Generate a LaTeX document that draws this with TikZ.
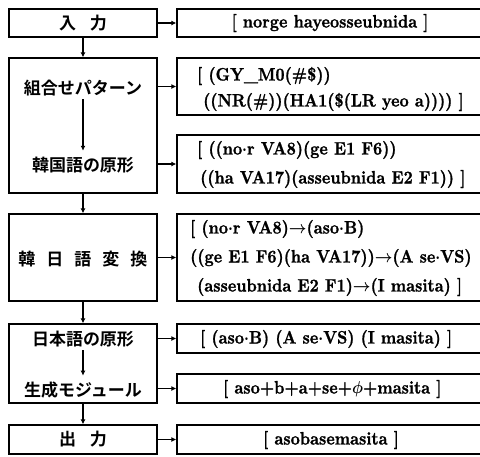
\documentclass[tikz,border=0pt]{standalone}
\usepackage{fontspec}
\usepackage{graphicx}
\newfontfamily\cjk{Noto Sans CJK JP}[BoldFont={Noto Sans CJK JP Bold}]
\newfontfamily\enfont{lmroman10-bold.otf}[FakeBold=1.2]
\usetikzlibrary{arrows.meta}
\newcommand{\entext}[1]{\scalebox{0.89}[1]{\enfont\boldmath\fontsize{18}{18}\selectfont #1}}
\tikzset{
  lbox/.style={draw, line width=1.3pt, minimum width=148pt, inner sep=0pt},
  rbox/.style={draw, line width=1.3pt, minimum width=307pt, inner sep=0pt},
  arr/.style={line width=1.3pt, -{Latex[length=5pt,width=5pt]}},
  jp/.style={font=\cjk\bfseries\fontsize{17}{17}\selectfont, inner sep=0pt},
  en/.style={inner sep=0pt},
  enl/.style={en, anchor=west},
}
\newcommand{\cd}{${\cdot}$}
\newcommand{\ra}{${\rightarrow}$}
\begin{document}
\begin{tikzpicture}[x=1pt,y=-1pt]
\useasboundingbox (0,0) rectangle (480,456);
\clip (0,0) rectangle (480,456);
% left boxes
\node[lbox, minimum height=28pt] (L1) at (83,23) {};
\node[lbox, minimum height=135pt] (L2) at (83,125.5) {};
\node[lbox, minimum height=87pt] (L3) at (83,257.5) {};
\node[lbox, minimum height=79pt] (L4) at (83,363.5) {};
\node[lbox, minimum height=29pt] (L5) at (83,439.5) {};
% left texts
\node[jp] (J1) at (L1.center) {入\hspace{14pt}力};
\node[jp] (J2a) at (83,88) {組合せパターン};
\node[jp] (J2b) at (83,165) {韓国語の原形};
\node[jp] (J3) at (83,259) {韓\hspace{11pt}日\hspace{11pt}語\hspace{11pt}変\hspace{11pt}換};
\node[jp] (J4a) at (83,339) {日本語の原形};
\node[jp] (J4b) at (83,390) {生成モジュール};
\node[jp] (J5) at (L5.center) {出\hspace{14pt}力};
% right boxes
\node[rbox, minimum height=28pt] (R1) at (330.5,23) {};
\node[rbox, minimum height=57pt] (R2) at (330.5,86.5) {};
\node[rbox, minimum height=58pt] (R3) at (330.5,164) {};
\node[rbox, minimum height=87pt] (R4) at (330.5,257.5) {};
\node[rbox, minimum height=29pt] (R5) at (330.5,338.5) {};
\node[rbox, minimum height=29pt] (R6) at (330.5,388.5) {};
\node[rbox, minimum height=29pt] (R7) at (330.5,439.5) {};
% right texts
\node[en] (T1) at (330,23) {\entext{[ norge hayeosseubnida ]}};
\node[enl] (T2a) at (197,76) {\entext{[ (GY\_M0(\#\$))}};
\node[enl] (T2b) at (203,102) {\entext{((NR(\#))(HA1(\$(LR yeo a)))) ]}};
\node[enl] (T3a) at (197,150) {\entext{[ ((no\cd r VA8)(ge E1 F6))}};
\node[enl] (T3b) at (200,179) {\entext{((ha VA17)(asseubnida E2 F1)) ]}};
\node[enl] (T4a) at (190,229) {\entext{[ (no\cd r VA8)\ra(aso\cd B)}};
\node[enl] (T4b) at (190,258) {\entext{((ge E1 F6)(ha VA17))\ra(A se\cd VS)}};
\node[enl] (T4c) at (197,287) {\entext{(asseubnida E2 F1)\ra(I masita) ]}};
\node[enl] (T5) at (200,339) {\entext{[ (aso\cd B) (A se\cd VS) (I masita) ]}};
\node[enl] (T6) at (223,389) {\entext{[ aso+b+a+se+$\phi$+masita ]}};
\node[enl] (T7) at (263,440) {\entext{[ asobasemasita ]}};
% vertical arrows
\draw[arr] (L1.south) -- (L2.north);
\draw[arr] (L2.south) -- (L3.north);
\draw[arr] (L3.south) -- (L4.north);
\draw[arr] (L4.south) -- (L5.north);
\draw[arr, shorten <=3pt, shorten >=6pt] (J2a.south) -- (J2b.north);
\draw[arr, shorten <=3pt, shorten >=6pt] (J4a.south) -- (J4b.north);
% horizontal arrows
\draw[arr] (L1.east) -- (R1.west);
\draw[arr] (R2.west -| L2.east) -- (R2.west);
\draw[arr] (R3.west -| L2.east) -- (R3.west);
\draw[arr] (L3.east |- R4.west) -- (R4.west);
\draw[arr] (R5.west -| L4.east) -- (R5.west);
\draw[arr] (R6.west -| L4.east) -- (R6.west);
\draw[arr] (L5.east) -- (R7.west);
\end{tikzpicture}
\end{document}
